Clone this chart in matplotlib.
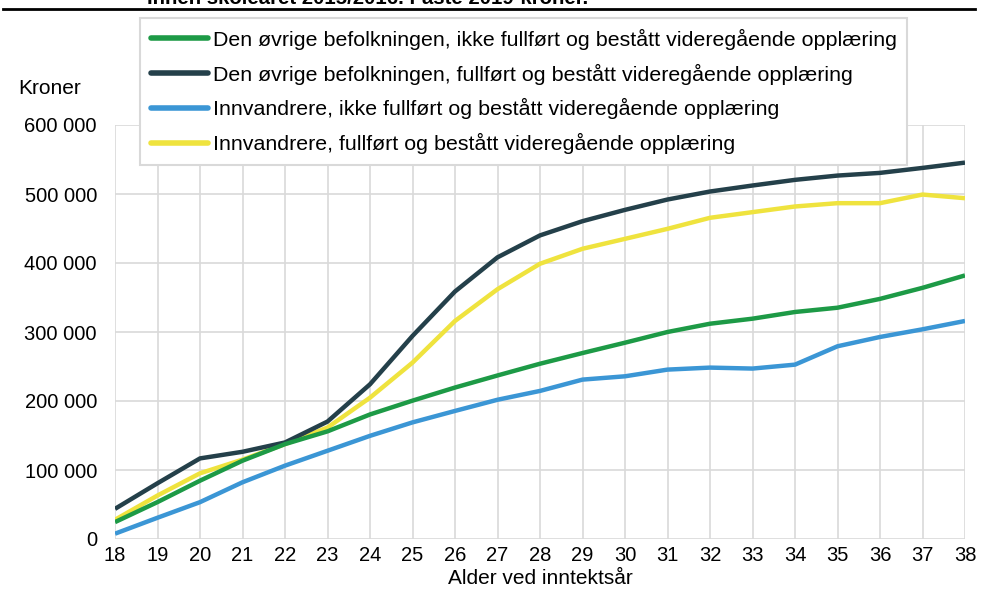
import matplotlib
matplotlib.use("Agg")
import matplotlib.pyplot as plt
from matplotlib.lines import Line2D
from matplotlib.ticker import FuncFormatter

plt.rcParams['font.family'] = ['Liberation Sans', 'DejaVu Sans']

# alder ved inntektsår
ages = list(range(18, 39))

# kroner, lest av figuren
ovrige_ikke = [24500, 53500, 84500, 113500, 137500, 156000, 180500, 200500, 219500, 237000,
               254000, 269500, 284500, 300000, 312000, 319300, 329000, 335200, 348000, 364000, 382000]
ovrige_fullfort = [43700, 80800, 116800, 126400, 139900, 170200, 224200, 294300, 358700, 408200,
                   440000, 460600, 477000, 492000, 503600, 512300, 520500, 526700, 530600, 537800, 545500]
innv_ikke = [7700, 30800, 53400, 82200, 106300, 127900, 149500, 169000, 185600, 201800,
             214600, 231000, 235800, 245500, 248400, 247000, 252700, 279300, 292800, 303900, 316000]
innv_fullfort = [27900, 63000, 95200, 115000, 137500, 161500, 204800, 255600, 316000, 362000,
                 398900, 420600, 435000, 449500, 465500, 473700, 481900, 486700, 486700, 499200, 493900]

labels = [
    "Den øvrige befolkningen, ikke fullført og bestått videregående opplæring",
    "Den øvrige befolkningen, fullført og bestått videregående opplæring",
    "Innvandrere, ikke fullført og bestått videregående opplæring",
    "Innvandrere, fullført og bestått videregående opplæring",
]
colors = ["#1d9a46", "#24404a", "#3b96d5", "#efe33e"]
series = [ovrige_ikke, ovrige_fullfort, innv_ikke, innv_fullfort]

fig = plt.figure(figsize=(9.91, 5.93), dpi=100)
ax = fig.add_axes([115/991, 1 - 539/593, 850/991, 414/593])

# tegn i omvendt rekkefølge så grønn/mørk ligger øverst
for vals, c, lab in reversed(list(zip(series, colors, labels))):
    ax.plot(ages, vals, color=c, lw=3.2, label=lab, solid_capstyle='butt', zorder=3)

ax.set_xlim(18, 38)
ax.set_ylim(0, 600000)
ax.set_xticks(ages)
ax.set_yticks(range(0, 600001, 100000))
ax.yaxis.set_major_formatter(FuncFormatter(lambda v, p: f"{int(v):,}".replace(",", " ")))
ax.grid(True, color="#d9d9d9", lw=1.2, zorder=0)
ax.tick_params(length=0, labelsize=14.5, colors="black")
ax.tick_params(axis='x', pad=5)
ax.tick_params(axis='y', pad=13)
for s in ax.spines.values():
    s.set_visible(False)

ax.set_xlabel("Alder ved inntektsår", fontsize=15, labelpad=3)
fig.text(18/991, 1 - 88/593, "Kroner", fontsize=15, va='center', ha='left')

handles = [Line2D([], [], color=c, lw=4, solid_capstyle='round') for c in colors]
leg = fig.legend(handles, labels, loc='upper left', bbox_to_anchor=(140/991, 1 - 18/593),
                 bbox_transform=fig.transFigure, fontsize=15.4, frameon=True, fancybox=False,
                 edgecolor="#d9d9d9", framealpha=1, borderaxespad=0, borderpad=0.5,
                 labelspacing=0.64, handlelength=2.7, handletextpad=0.2)
leg.get_frame().set_linewidth(1.5)

# avkuttet tittel og strek øverst
fig.text(147/991, 1 - 4/593, "Innen skoleåret 2015/2016. Faste 2019-kroner.", fontsize=14.7,
         fontweight='bold', va='baseline', ha='left')
fig.add_artist(Line2D([3/991, 975/991], [1 - 8.7/593, 1 - 8.7/593], color="black", lw=2.0,
                      transform=fig.transFigure))

fig.savefig("out.png", dpi=100)
